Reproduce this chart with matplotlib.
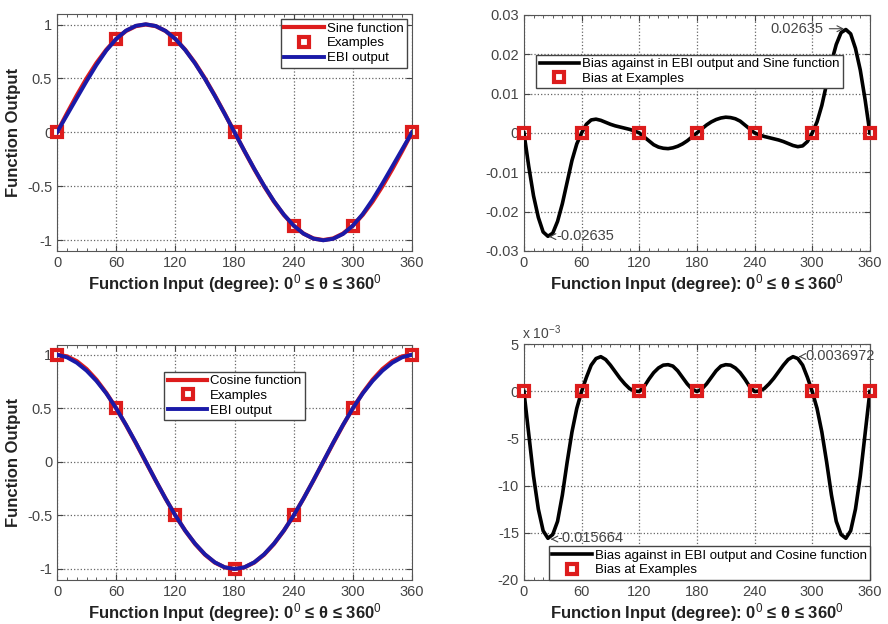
import matplotlib.pyplot as plt
import numpy as np
from matplotlib.ticker import MultipleLocator, FuncFormatter

plt.rcParams['font.family'] = ['Liberation Sans', 'DejaVu Sans']
plt.rcParams['mathtext.fontset'] = 'custom'
plt.rcParams['mathtext.rm'] = 'Liberation Sans'
plt.rcParams['mathtext.it'] = 'Liberation Sans:italic'
plt.rcParams['mathtext.bf'] = 'Liberation Sans:bold'

# sample angles (degree) for the curves, every 10 degrees
theta = list(range(0, 361, 10))
sine_vals = [0.0, 0.174, 0.342, 0.5, 0.643, 0.766, 0.866, 0.940, 0.985, 1.0,
             0.985, 0.940, 0.866, 0.766, 0.643, 0.5, 0.342, 0.174, 0.0,
             -0.174, -0.342, -0.5, -0.643, -0.766, -0.866, -0.940, -0.985, -1.0,
             -0.985, -0.940, -0.866, -0.766, -0.643, -0.5, -0.342, -0.174, 0.0]
cosine_vals = [1.0, 0.985, 0.940, 0.866, 0.766, 0.643, 0.5, 0.342, 0.174, 0.0,
               -0.174, -0.342, -0.5, -0.643, -0.766, -0.866, -0.940, -0.985, -1.0,
               -0.985, -0.940, -0.866, -0.766, -0.643, -0.5, -0.342, -0.174, 0.0,
               0.174, 0.342, 0.5, 0.643, 0.766, 0.866, 0.940, 0.985, 1.0]

# example points
ex_theta = [0, 60, 120, 180, 240, 300, 360]
ex_sine = [0.0, 0.866, 0.866, 0.0, -0.866, -0.866, 0.0]
ex_cosine = [1.0, 0.5, -0.5, -1.0, -0.5, 0.5, 1.0]
ex_bias = [0, 0, 0, 0, 0, 0, 0]

# bias curves (EBI output - function), read every 5 degrees
bias_theta = list(range(0, 361, 5))
sine_bias = [0.0, -0.0085, -0.016, -0.0215, -0.0252, -0.0263, -0.0255, -0.0225,
             -0.018, -0.0125, -0.007, -0.0028, 0.0, 0.0022, 0.0033, 0.0035,
             0.0032, 0.0027, 0.0022, 0.0018, 0.0015, 0.0012, 0.0009, 0.0005,
             0.0, -0.001, -0.002, -0.003, -0.0036, -0.0039, -0.004, -0.0038,
             -0.0034, -0.0028, -0.002, -0.001, 0.0,
             0.001, 0.002, 0.0028, 0.0034, 0.0038, 0.004, 0.0039, 0.0036, 0.003,
             0.002, 0.001, 0.0, -0.0005, -0.0009, -0.0012, -0.0015, -0.0018,
             -0.0022, -0.0027, -0.0032, -0.0035, -0.0033, -0.0022, 0.0, 0.0028,
             0.007, 0.0125, 0.018, 0.0225, 0.0255, 0.0263, 0.0252, 0.0215,
             0.016, 0.0085, 0.0]
cosine_bias = [0.0, -4.5, -9.0, -12.5, -14.8, -15.6, -15.2, -13.8, -11.0, -7.5,
               -4.3, -1.8, 0.0, 1.5, 2.8, 3.5, 3.7, 3.4, 2.8, 2.1, 1.4, 0.8, 0.3,
               0.05, 0.0, 0.5, 1.3, 2.0, 2.5, 2.8, 2.85, 2.7, 2.2, 1.5, 0.8, 0.25,
               0.0, 0.25, 0.8, 1.5, 2.2, 2.7, 2.85, 2.8, 2.5, 2.0, 1.3, 0.5, 0.0,
               0.05, 0.3, 0.8, 1.4, 2.1, 2.8, 3.4, 3.7, 3.5, 2.8, 1.5, 0.0, -1.8,
               -4.3, -7.5, -11.0, -13.8, -15.2, -15.6, -14.8, -12.5, -9.0, -4.5,
               0.0]
cosine_bias = [v * 1e-3 for v in cosine_bias]

# EBI output = function + bias (bias sampled every 5 deg, take every 10 deg)
ebi_sine = [s + b for s, b in zip(sine_vals, sine_bias[::2])]
ebi_cosine = [c + b for c, b in zip(cosine_vals, cosine_bias[::2])]

xlabel = 'Function Input (degree): 0$^0$ ≤ θ ≤ 360$^0$'
xticks = [0, 60, 120, 180, 240, 300, 360]
red = '#dd1c1c'
blue = '#1a1aa8'
mk = dict(ms=6.5, mfc='none', mec=red, mew=3, clip_on=False)
leg = dict(fontsize=9.5, fancybox=False, edgecolor='#444444', framealpha=1,
           handlelength=3.0, borderpad=0.25, labelspacing=0.2,
           handletextpad=0.2)


def style_axes(ax):
    ax.set_xlim(0, 360)
    ax.set_xticks(xticks)
    ax.xaxis.set_minor_locator(MultipleLocator(10))
    ax.tick_params(which='both', direction='in', top=True, right=True,
                   labelsize=10.5, labelcolor='#444444', colors='#444444')
    ax.tick_params(which='major', length=4)
    ax.tick_params(which='minor', length=2.5)
    ax.grid(True, which='major', linestyle=':', color='#666666', linewidth=0.9)
    for s in ax.spines.values():
        s.set_color('#555555')
    ax.set_xlabel(xlabel, fontsize=12, fontweight='bold', labelpad=2,
                  color='#222222')


fig = plt.figure(figsize=(8.88, 6.24), dpi=100)
ax1 = fig.add_axes([0.0642, 0.598, 0.3998, 0.380])
ax2 = fig.add_axes([0.590, 0.598, 0.3896, 0.378])
ax3 = fig.add_axes([0.0642, 0.071, 0.3998, 0.376])
ax4 = fig.add_axes([0.590, 0.071, 0.3896, 0.377])

# top-left: sine
ax1.plot(theta, sine_vals, color=red, lw=3, label='Sine function', zorder=3)
ax1.plot(ex_theta, ex_sine, 's', label='Examples', zorder=4, **mk)
ax1.plot(theta, ebi_sine, color=blue, lw=2.8, label='EBI output', zorder=5)
ax1.set_ylim(-1.1, 1.1)
ax1.set_yticks([-1, -0.5, 0, 0.5, 1])
ax1.set_yticklabels(['-1', '-0.5', '0', '0.5', '1'])
style_axes(ax1)
ax1.set_ylabel('Function Output', fontsize=12, fontweight='bold', color='#222222')
ax1.legend(loc='upper right', borderaxespad=0.4, **leg)

# top-right: sine bias
ax2.plot(bias_theta, sine_bias, color='black', lw=2.6,
         label='Bias against in EBI output and Sine function', zorder=3)
ax2.plot(ex_theta, ex_bias, 's', label='Bias at Examples', zorder=4, **mk)
ax2.set_ylim(-0.03, 0.03)
ax2.set_yticks([-0.03, -0.02, -0.01, 0, 0.01, 0.02, 0.03])
ax2.set_yticklabels(['-0.03', '-0.02', '-0.01', '0', '0.01', '0.02', '0.03'])
style_axes(ax2)
ax2.annotate('0.02635', xy=(336, 0.0265), xytext=(312, 0.0265),
             fontsize=10.5, color='#444444', va='center', ha='right',
             arrowprops=dict(arrowstyle='->', color='#444444', lw=0.8))
ax2.annotate('-0.02635', xy=(23, -0.0264), xytext=(34, -0.0263),
             fontsize=10.5, color='#444444', va='center', ha='left',
             arrowprops=dict(arrowstyle='->', color='#444444', lw=0.8))
ax2.legend(loc='upper left', bbox_to_anchor=(0.017, 0.86), **leg)

# bottom-left: cosine
ax3.plot(theta, cosine_vals, color=red, lw=3, label='Cosine function', zorder=3)
ax3.plot(ex_theta, ex_cosine, 's', label='Examples', zorder=4, **mk)
ax3.plot(theta, ebi_cosine, color=blue, lw=2.8, label='EBI output', zorder=5)
ax3.set_ylim(-1.1, 1.09)
ax3.set_yticks([-1, -0.5, 0, 0.5, 1])
ax3.set_yticklabels(['-1', '-0.5', '0', '0.5', '1'])
style_axes(ax3)
ax3.set_ylabel('Function Output', fontsize=12, fontweight='bold', color='#222222')
ax3.legend(loc='upper center', bbox_to_anchor=(0.5, 0.915), **leg)

# bottom-right: cosine bias
ax4.plot(bias_theta, cosine_bias, color='black', lw=2.6,
         label='Bias against in EBI output and Cosine function', zorder=3)
ax4.plot(ex_theta, ex_bias, 's', label='Bias at Examples', zorder=4, **mk)
ax4.set_ylim(-0.020, 0.005)
ax4.set_yticks([-0.020, -0.015, -0.010, -0.005, 0, 0.005])
ax4.yaxis.set_major_formatter(FuncFormatter(lambda v, p: '%d' % round(v * 1e3)))
style_axes(ax4)
ax4.text(-0.005, 1.012, r'x 10$^{-3}$', transform=ax4.transAxes, ha='left',
         va='bottom', fontsize=10, color='#444444')
ax4.annotate('0.0036972', xy=(283, 0.0037), xytext=(293, 0.0038),
             fontsize=10.5, color='#444444', va='center', ha='left',
             arrowprops=dict(arrowstyle='->', color='#444444', lw=0.8))
ax4.annotate('-0.015664', xy=(25, -0.0157), xytext=(35, -0.0156),
             fontsize=10.5, color='#444444', va='center', ha='left',
             arrowprops=dict(arrowstyle='->', color='#444444', lw=0.8))
ax4.legend(loc='lower right', borderaxespad=0, **leg)

fig.savefig('out.png', dpi=100)
